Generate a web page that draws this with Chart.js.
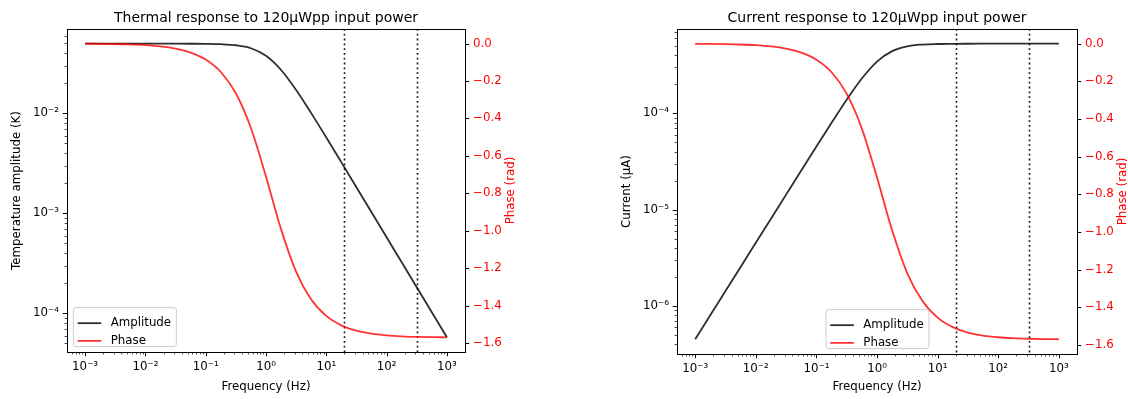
<!DOCTYPE html>
<html>
<head>
<meta charset="utf-8">
<script src="https://cdn.jsdelivr.net/npm/chart.js@4.4.1/dist/chart.umd.min.js"></script>
<style>
  html, body { margin: 0; padding: 0; background: #fff; }
  .panel { position: absolute; top: 0; width: 564px; height: 399px; }
  #panel-thermal { left: 0; }
  #panel-current { left: 564px; }
</style>
</head>
<body>
<div class="panel" id="panel-thermal"><canvas id="thermalChart"></canvas></div>
<div class="panel" id="panel-current"><canvas id="currentChart"></canvas></div>
<script>
// ==========================================
// 1. Data
// ==========================================
const freqHz = [0.001, 0.00178, 0.00316, 0.00562, 0.01, 0.0178, 0.0316, 0.0562, 0.1, 0.178, 0.316, 0.562,
                1, 1.78, 3.16, 5.62, 10, 17.8, 31.6, 56.2, 100, 178, 316, 562, 1000];

const thermalAmpK = [0.0497, 0.0497, 0.0497, 0.0497, 0.0497, 0.0497, 0.0497, 0.04964, 0.04952, 0.04913, 0.04795, 0.04473,
                     0.03765, 0.02714, 0.01713, 0.01005, 0.005727, 0.003233, 0.001823, 0.001026, 0.0005766, 0.000324,
                     0.0001825, 0.0001026, 0.00005766];

const currentAmpUA = [4.53e-7, 8.05e-7, 1.43e-6, 2.54e-6, 4.53e-6, 8.05e-6, 1.429e-5, 2.541e-5, 4.509e-5, 7.96e-5, 1.38e-4, 2.289e-4,
                      3.428e-4, 4.398e-4, 4.929e-4, 5.142e-4, 5.215e-4, 5.239e-4, 5.247e-4, 5.249e-4, 5.25e-4, 5.25e-4,
                      5.25e-4, 5.25e-4, 5.25e-4];

const phaseRad = [-0.0009, -0.0015, -0.0027, -0.0048, -0.0086, -0.0153, -0.0272, -0.0484, -0.086, -0.1522, -0.266, -0.4513,
                  -0.7113, -0.9929, -1.2195, -1.3673, -1.4553, -1.5057, -1.5341, -1.5502, -1.5592, -1.5643,
                  -1.5671, -1.5687, -1.5697];

// dotted markers
const markerFreqs = [20, 316];

// tick labels / axis limits
const freqTicks = [1e-3, 1e-2, 1e-1, 1, 10, 100, 1000];
const thermalTicks = [1e-4, 1e-3, 1e-2];
const currentTicks = [1e-6, 1e-5, 1e-4];
const phaseTicks = [-1.6, -1.4, -1.2, -1.0, -0.8, -0.6, -0.4, -0.2, 0.0];

const freqRange = [5.01e-4, 1995];
const thermalRange = [4.11e-5, 0.0697];
const currentRange = [3.18e-7, 7.46e-4];
const phaseRange = [-1.6481, 0.0775];

const legendLabels = ['Amplitude', 'Phase'];

// ==========================================
// 2. Helpers
// ==========================================
const FONT = "'DejaVu Sans', sans-serif";
const LINE_BLACK = 'rgba(0,0,0,0.82)';
const LINE_RED = 'rgba(255,0,0,0.8)';

Chart.defaults.font.family = FONT;
Chart.defaults.font.size = 11.8;
Chart.defaults.color = '#000';

const SUP = { '-': '\u207B', '0': '\u2070', '1': '\u00B9', '2': '\u00B2', '3': '\u00B3',
              '4': '\u2074', '5': '\u2075', '6': '\u2076', '7': '\u2077', '8': '\u2078', '9': '\u2079' };

function supLabel(v) {
  const exp = Math.round(Math.log10(v));
  return '10' + String(exp).split('').map(c => SUP[c]).join('');
}

// majors plus 2..9 minors, like matplotlib log axes
function logTickList(majors, range) {
  const out = [];
  [majors[0] / 10, ...majors].forEach((base, i) => {
    for (let m = 1; m <= 9; m++) {
      const v = +(m * base).toPrecision(6);
      if (v >= range[0] && v <= range[1]) out.push({ value: v, major: m === 1 && i > 0 });
    }
  });
  return out;
}

function toPoints(ys) {
  return freqHz.map((f, i) => ({ x: f, y: ys[i] }));
}

// ==========================================
// 3. Plugin: frame, tick marks, markers, right label, legend
// ==========================================
const figureExtras = {
  id: 'figureExtras',
  beforeDatasetsDraw(chart) {
    const { ctx, chartArea: a, scales: { x } } = chart;
    ctx.save();
    ctx.strokeStyle = '#111';
    ctx.lineWidth = 1.6;
    ctx.setLineDash([1.8, 3]);
    markerFreqs.forEach(f => {
      const px = Math.round(x.getPixelForValue(f)) + 0.5;
      ctx.beginPath();
      ctx.moveTo(px, a.top);
      ctx.lineTo(px, a.bottom);
      ctx.stroke();
    });
    ctx.restore();
  },
  afterDraw(chart, args, opts) {
    const { ctx, chartArea: a, scales } = chart;
    ctx.save();

    // tick marks
    ctx.strokeStyle = '#000';
    const mark = (scale, side) => {
      scale.ticks.forEach(t => {
        const len = t.major ? 4.2 : 2.4;
        ctx.lineWidth = t.major ? 1 : 0.7;
        const p = Math.round(scale.getPixelForValue(t.value)) + 0.5;
        ctx.beginPath();
        if (side === 'bottom') { ctx.moveTo(p, a.bottom); ctx.lineTo(p, a.bottom + len); }
        if (side === 'left') { ctx.moveTo(a.left, p); ctx.lineTo(a.left - len, p); }
        if (side === 'right') { ctx.moveTo(a.right, p); ctx.lineTo(a.right + len, p); }
        ctx.stroke();
      });
    };
    mark(scales.x, 'bottom');
    mark(scales.y, 'left');
    mark(scales.y1, 'right');

    // frame
    ctx.lineWidth = 1;
    ctx.strokeStyle = '#000';
    ctx.strokeRect(Math.round(a.left) + 0.5, Math.round(a.top) + 0.5,
                   Math.round(a.right - a.left), Math.round(a.bottom - a.top));

    // right axis label (reads bottom to top)
    ctx.save();
    ctx.translate(a.right + 46, (a.top + a.bottom) / 2);
    ctx.rotate(-Math.PI / 2);
    ctx.fillStyle = '#ff0000';
    ctx.font = '11.8px ' + FONT;
    ctx.textAlign = 'center';
    ctx.textBaseline = 'middle';
    ctx.fillText('Phase (rad)', 0, 0);
    ctx.restore();

    // legend
    const fs = 11.8;
    ctx.font = fs + 'px ' + FONT;
    const textW = Math.max(...legendLabels.map(l => ctx.measureText(l).width));
    const pad = 0.4 * fs, handle = 2 * fs, gap = 0.8 * fs, spacing = 0.5 * fs;
    const w = pad + handle + gap + textW + pad;
    const h = pad * 2 + fs * 2 + spacing;
    const bx = opts.legendAlign === 'center' ? (a.left + a.right) / 2 - w / 2 : a.left + 0.5 * fs;
    const by = a.bottom - 0.5 * fs - h;
    ctx.beginPath();
    ctx.roundRect(bx + 0.5, by + 0.5, w, h, 2.5);
    ctx.fillStyle = 'rgba(255,255,255,0.8)';
    ctx.fill();
    ctx.strokeStyle = '#cccccc';
    ctx.lineWidth = 1;
    ctx.stroke();
    const colors = [LINE_BLACK, LINE_RED];
    legendLabels.forEach((label, i) => {
      const cy = by + pad + spacing + i * (fs + spacing * 1.0) + fs / 2 - 0.5;
      ctx.strokeStyle = colors[i];
      ctx.lineWidth = 1.8;
      ctx.beginPath();
      ctx.moveTo(bx + pad, cy);
      ctx.lineTo(bx + pad + handle, cy);
      ctx.stroke();
      ctx.fillStyle = '#000';
      ctx.textAlign = 'left';
      ctx.textBaseline = 'middle';
      ctx.fillText(label, bx + pad + handle + gap, cy);
    });

    ctx.restore();
  }
};

// ==========================================
// 4. Chart builder
// ==========================================
function buildChart(canvasId, cfg) {
  const ctx = document.getElementById(canvasId);
  return new Chart(ctx, {
    type: 'line',
    data: {
      datasets: [
        { label: legendLabels[0], data: toPoints(cfg.amp), yAxisID: 'y', order: 1,
          borderColor: LINE_BLACK, borderWidth: 1.8, pointRadius: 0, cubicInterpolationMode: 'monotone' },
        { label: legendLabels[1], data: toPoints(phaseRad), yAxisID: 'y1', order: 0,
          borderColor: LINE_RED, borderWidth: 1.8, pointRadius: 0, cubicInterpolationMode: 'monotone' }
      ]
    },
    options: {
      responsive: true,
      maintainAspectRatio: false,
      animation: false,
      layout: { padding: 0 },
      plugins: {
        legend: { display: false },
        tooltip: { enabled: false },
        title: {
          display: true, text: cfg.title, fullSize: false, color: '#000',
          font: { size: 14, weight: 'normal' }, padding: { top: 10, bottom: 2.2 }
        },
        figureExtras: { legendAlign: cfg.legendAlign }
      },
      scales: {
        x: {
          type: 'logarithmic', bounds: 'data', min: freqRange[0], max: freqRange[1],
          grid: { display: false, drawTicks: true, tickLength: 4 },
          border: { display: false },
          afterBuildTicks: s => { s.ticks = logTickList(freqTicks, freqRange); },
          afterFit: s => { s.height = cfg.xHeight; },
          ticks: { autoSkip: false, maxRotation: 0, padding: 4, color: '#000',
                   callback: (v, i, t) => t[i].major ? supLabel(v) : '' },
          title: { display: true, text: 'Frequency (Hz)', color: '#000', padding: { top: 0, bottom: 5 } }
        },
        y: {
          type: 'logarithmic', position: 'left', bounds: 'data', min: cfg.yRange[0], max: cfg.yRange[1],
          grid: { display: false, drawTicks: true, tickLength: 4 },
          border: { display: false },
          afterBuildTicks: s => { s.ticks = logTickList(cfg.yTicks, cfg.yRange); },
          afterFit: s => { s.width = cfg.yWidth; },
          ticks: { autoSkip: false, padding: 4, color: '#000',
                   callback: (v, i, t) => t[i].major ? supLabel(v) : '' },
          title: { display: true, text: cfg.yLabel, color: '#000', padding: { top: cfg.yTitlePad, bottom: 0 } }
        },
        y1: {
          type: 'linear', position: 'right', bounds: 'data', min: phaseRange[0], max: phaseRange[1],
          grid: { display: false, drawTicks: true, tickLength: 4 },
          border: { display: false },
          afterBuildTicks: s => { s.ticks = phaseTicks.map(v => ({ value: v, major: true })); },
          afterFit: s => { s.width = cfg.y1Width; },
          ticks: { autoSkip: false, padding: 4, color: '#ff0000',
                   callback: v => v.toFixed(1).replace('-', '\u2212') }
        }
      }
    },
    plugins: [figureExtras]
  });
}

// ==========================================
// 5. Init
// ==========================================
buildChart('thermalChart', {
  title: 'Thermal response to 120\u03BCWpp input power',
  yLabel: 'Temperature amplitude (K)',
  amp: thermalAmpK, yTicks: thermalTicks, yRange: thermalRange,
  yWidth: 67, y1Width: 99, xHeight: 47, yTitlePad: 9.6, legendAlign: 'left'
});

buildChart('currentChart', {
  title: 'Current response to 120\u03BCWpp input power',
  yLabel: 'Current (\u03BCA)',
  amp: currentAmpUA, yTicks: currentTicks, yRange: currentRange,
  yWidth: 113, y1Width: 51, xHeight: 45, yTitlePad: 55.6, legendAlign: 'center'
});
</script>
</body>
</html>
